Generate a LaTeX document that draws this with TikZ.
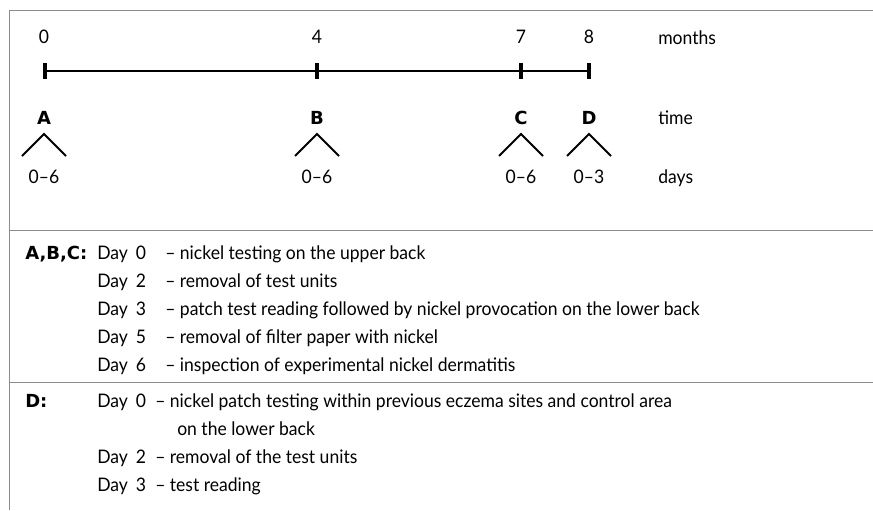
\documentclass[tikz,border=0pt]{standalone}
\usepackage{fontspec}
\setmainfont{Lato}[FakeStretch=0.94]
\newfontfamily\hdfont{DejaVu Sans}
\newcommand{\dayno}[1]{Day\hspace{6pt}#1}
\usetikzlibrary{calc}
\tikzset{txt/.style={anchor=base west,inner sep=0.75pt,font=\fontsize{14}{17}\selectfont},
    ctr/.style={anchor=base,inner sep=0.75pt,font=\fontsize{14}{17}\selectfont},
    hd/.style={txt,font=\fontsize{13.5}{16}\hdfont\bfseries},
    tickmark/.style={fill=black,inner sep=0pt,minimum width=3.4pt,minimum height=12pt},
    caret/.style={line width=1.4pt},
    rule/.style={draw=black!45,line width=1pt}}

\begin{document}
\begin{tikzpicture}[x=0.75pt,y=0.75pt,yscale=-1,xscale=1]
\useasboundingbox (0,0) rectangle (873,510);

%Frame and separators
\draw[rule] (873,10.5) -- (9.5,10.5) -- (9.5,510) ;
\draw[rule] (9.5,230.5) -- (873,230.5) ;
\draw[rule] (9.5,382.5) -- (873,382.5) ;

%Time line
\coordinate (m0) at (45,71) ;
\coordinate (m4) at (317,71) ;
\coordinate (m7) at (521,71) ;
\coordinate (m8) at (589,71) ;
\draw[line width=1.5pt] (m0) -- (m8) ;
\node[tickmark] (k0) at (m0) {} ;
\node[tickmark] (k4) at (m4) {} ;
\node[tickmark] (k7) at (m7) {} ;
\node[tickmark] (k8) at (m8) {} ;

% Month labels
\node[ctr] (n0) at (44,44) {0};
\node[ctr] (n4) at (317,44) {4};
\node[ctr] (n7) at (521,44) {7};
\node[ctr] (n8) at (589,44) {8};
\node[txt] (months) at (657,45) {months};

% Periods
\node[hd,anchor=base] (pa) at (44,124) {A};
\node[hd,anchor=base] (pb) at (317,124) {B};
\node[hd,anchor=base] (pc) at (521,124) {C};
\node[hd,anchor=base] (pd) at (589,124) {D};
\node[txt] (time) at (657,124) {time};

% Carets
\coordinate (ca) at (44,134) ;
\coordinate (cb) at (317,134) ;
\coordinate (cc) at (521,134) ;
\coordinate (cd) at (589,134) ;
\draw[caret] (ca) ++(-22,22) -- (ca) -- ++(22,22) ;
\draw[caret] (cb) ++(-22,22) -- (cb) -- ++(22,22) ;
\draw[caret] (cc) ++(-22,22) -- (cc) -- ++(22,22) ;
\draw[caret] (cd) ++(-22,22) -- (cd) -- ++(22,22) ;

% Day ranges
\node[ctr] (da) at (44,183) {0--6};
\node[ctr] (db) at (317,183) {0--6};
\node[ctr] (dc) at (521,183) {0--6};
\node[ctr] (dd) at (589,183) {0--3};
\node[txt] (days) at (657,183) {days};

% Protocol A,B,C
\node[hd] (abc) at (24,259) {A,B,C:};
\node[txt] (abc0) at (96,259) {\dayno{0}};
\node[txt] (abc2) at (96,287) {\dayno{2}};
\node[txt] (abc3) at (96,315) {\dayno{3}};
\node[txt] (abc5) at (96,343) {\dayno{5}};
\node[txt] (abc6) at (96,371) {\dayno{6}};
\node[txt] (abc0t) at (164,259) {-- nickel testing on the upper back};
\node[txt] (abc2t) at (164,287) {-- removal of test units};
\node[txt] (abc3t) at (164,315) {-- patch test reading followed by nickel provocation on the lower back};
\node[txt] (abc5t) at (164,343) {-- removal of filter paper with nickel};
\node[txt] (abc6t) at (164,371) {-- inspection of experimental nickel dermatitis};

% Protocol D
\node[hd] (dlab) at (24,407) {D:};
\node[txt] (d0) at (96,407) {\dayno{0}};
\node[txt] (d2) at (96,463) {\dayno{2}};
\node[txt] (d3) at (96,491) {\dayno{3}};
\node[txt] (d0t) at (154,407) {-- nickel patch testing within previous eczema sites and control area};
\node[txt] (d0u) at (176,435) {on the lower back};
\node[txt] (d2t) at (154,463) {-- removal of the test units};
\node[txt] (d3t) at (154,491) {-- test reading};

\end{tikzpicture}
\end{document}
